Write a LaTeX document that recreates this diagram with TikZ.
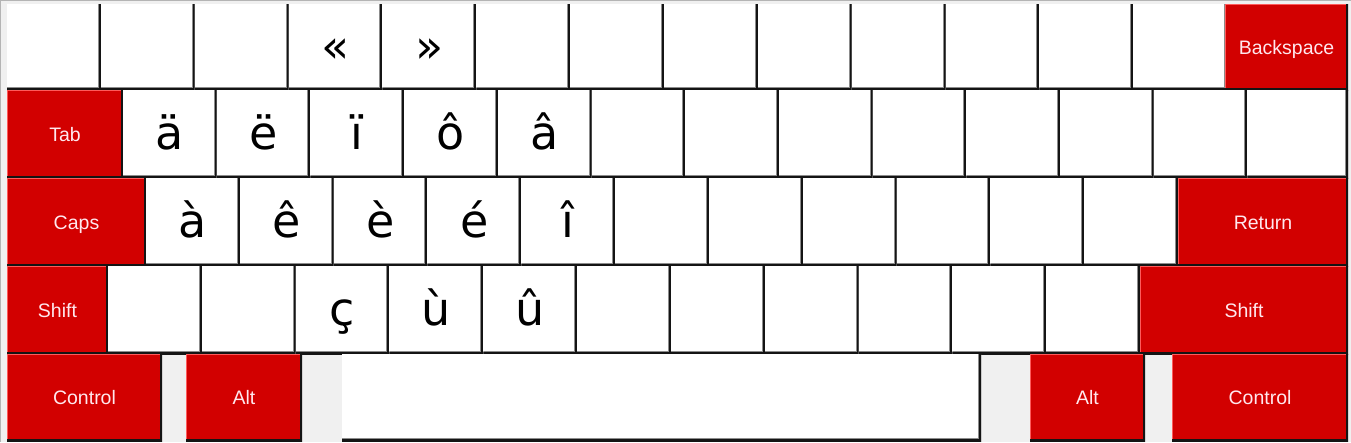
\documentclass[tikz,border=0pt]{standalone}
\usepackage{fontspec}
\setmainfont{Liberation Sans}
\newfontfamily\bigfont{DejaVu Sans}
\definecolor{bg}{HTML}{F0F0F0}
\definecolor{keyred}{HTML}{D20000}
\definecolor{redhi}{HTML}{FF5A5A}
\definecolor{keydark}{HTML}{141414}
\definecolor{keygray}{HTML}{8C8C8C}
\definecolor{labelc}{HTML}{FFE8EE}
\definecolor{frame}{HTML}{B4B4B4}
\tikzset{
  keyb/.style 2 args={rectangle, inner sep=0pt, outer sep=0pt, anchor=north west,
    minimum width=#1, minimum height=#2},
  wkey/.style={fill=white, text=black,
    font=\bigfont\fontsize{46}{50}\selectfont, text height=34pt, text depth=4pt,
    path picture={
      \draw[keygray, line width=6pt] (path picture bounding box.north east) -- (path picture bounding box.south east) -- (path picture bounding box.south west);
      \draw[keydark, line width=4pt] (path picture bounding box.north east) -- (path picture bounding box.south east) -- (path picture bounding box.south west);
    }},
  rkey/.style={fill=keyred, text=labelc,
    font=\fontsize{19.5}{22}\selectfont, text height=14.5pt, text depth=0pt,
    path picture={
      \draw[redhi, line width=2.8pt] (path picture bounding box.south west) -- (path picture bounding box.north west) -- (path picture bounding box.north east);
      \draw[keydark, line width=4.2pt] (path picture bounding box.north east) -- (path picture bounding box.south east) -- (path picture bounding box.south west);
    }},
}
\begin{document}
\begin{tikzpicture}[x=1pt, y=-1pt]
  \fill[bg] (0,0) rectangle (1351,442);
  \useasboundingbox (0,0) rectangle (1351,442);
  \draw[frame, line width=1pt] (0.5,441.5) -- (0.5,0.5) -- (1350.5,0.5);
  % Row 1
  \foreach \t [count=\i from 0] in {{},{},{},«,»,{},{},{},{},{},{},{},{}}
    {\node[wkey, keyb={93.85pt}{86pt}] (r1k\i) at ({7+\i*93.85},4) {\t};}
  \node[rkey, keyb={123pt}{86pt}] (bksp) at (1225,4) {Backspace};
  % Row 2
  \node[rkey, keyb={116pt}{88pt}] (tab) at (7,90) {Tab};
  \foreach \t [count=\i from 0] in {ä,ë,ï,ô,â,{},{},{},{},{},{},{}}
    {\node[wkey, keyb={93.7pt}{88pt}] (r2k\i) at ({123+\i*93.7},90) {\t};}
  \node[wkey, keyb={100.6pt}{88pt}] (r2k12) at (1247.4,90) {};
  % Row 3
  \node[rkey, keyb={139pt}{88pt}] (caps) at (7,178) {Caps};
  \foreach \t [count=\i from 0] in {à,ê,è,é,î,{},{},{},{},{},{}}
    {\node[wkey, keyb={93.82pt}{88pt}] (r3k\i) at ({146+\i*93.82},178) {\t};}
  \node[rkey, keyb={170pt}{88pt}] (ret) at (1178,178) {Return};
  % Row 4
  \node[rkey, keyb={101pt}{88pt}] (lshift) at (7,266) {Shift};
  \foreach \t [count=\i from 0] in {{},{},ç,ù,û,{},{},{},{},{},{}}
    {\node[wkey, keyb={93.82pt}{88pt}] (r4k\i) at ({108+\i*93.82},266) {\t};}
  \node[rkey, keyb={208pt}{88pt}] (rshift) at (1140,266) {Shift};
  % Row 5
  \node[rkey, keyb={155pt}{87pt}] (lctrl) at (7,354) {Control};
  \node[rkey, keyb={116pt}{87pt}] (lalt) at (186,354) {Alt};
  \node[wkey, keyb={639pt}{87pt}] (space) at (342,354) {};
  \node[rkey, keyb={115pt}{87pt}] (ralt) at (1030,354) {Alt};
  \node[rkey, keyb={176pt}{87pt}] (rctrl) at (1172,354) {Control};
\end{tikzpicture}
\end{document}
